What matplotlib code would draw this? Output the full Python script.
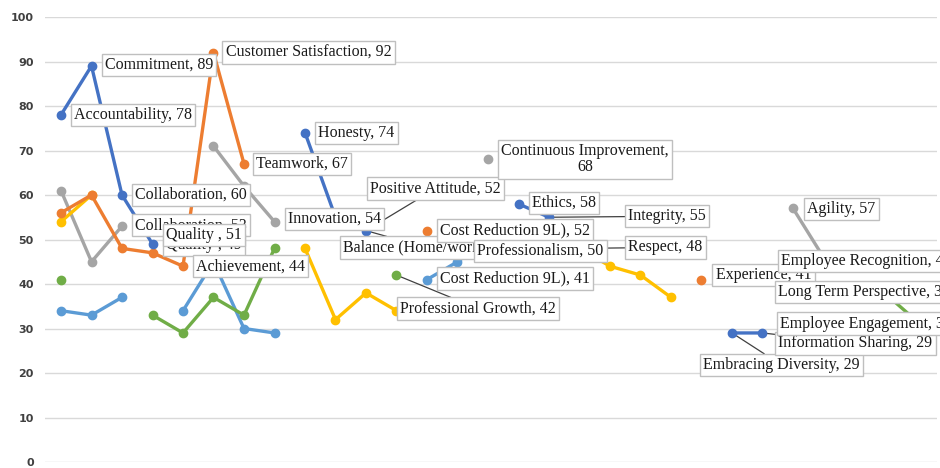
import numpy as np
import matplotlib
matplotlib.use("Agg")
import matplotlib.pyplot as plt

nan = np.nan

# ---------------- data ----------------
n_cats = 29
categories = list(range(n_cats))

blue = [78, 89, 60, 49, nan, nan, nan, nan, 74, 55, 52, nan, nan, nan, nan,
        58, 55, nan, nan, nan, nan, nan, 29, 29, nan, nan, nan, nan, nan]
orange = [56, 60, 48, 47, 44, 92, 67, nan, nan, nan, nan, nan, 52, nan, nan,
          nan, nan, nan, nan, nan, nan, 41, nan, nan, nan, nan, nan, nan, nan]
gray = [61, 45, 53, nan, nan, 71, 62, 54, nan, nan, nan, nan, nan, nan, 68,
        nan, nan, nan, nan, nan, nan, nan, nan, nan, 57, 46, nan, nan, nan]
yellow = [54, 60, nan, nan, nan, nan, nan, nan, 48, 32, 38, 34, nan, nan, nan,
          nan, nan, 48, 44, 42, 37, nan, nan, nan, nan, nan, nan, nan, nan]
lightblue = [34, 33, 37, nan, 34, 45, 30, 29, nan, nan, nan, nan, 41, 45, 50,
             nan, nan, nan, nan, nan, nan, nan, nan, nan, nan, nan, nan, nan, nan]
green = [41, nan, nan, 33, 29, 37, 33, 48, nan, nan, nan, 42, nan, nan, nan,
         nan, nan, nan, nan, nan, nan, nan, nan, nan, nan, nan, nan, 38, 32]

label_texts = [
    "Accountability, 78", "Commitment, 89", "Collaboration, 60",
    "Collaboration, 53", "Quality , 49", "Quality , 51",
    "Customer Satisfaction, 92", "Teamwork, 67", "Achievement, 44",
    "Innovation, 54", "Honesty, 74", "Positive Attitude, 52",
    "Balance (Home/work), 52", "Cost Reduction 9L), 52",
    "Cost Reduction 9L), 41", "Professional Growth, 42",
    "Professionalism, 50", "Continuous Improvement,\n68", "Ethics, 58",
    "Integrity, 55", "Respect, 48", "Experience, 41", "Agility, 57",
    "Employee Recognition, 46", "Long Term Perspective, 38",
    "Embracing Diversity, 29", "Information Sharing, 29",
    "Employee Engagement, 32",
]
label_cats = [0, 1, 2, 2, 3, 3, 5, 6, 4, 7, 8, 10, 10, 12, 12, 11, 14, 14,
              15, 16, 17, 21, 24, 25, 27, 22, 23, 28]
label_vals = [78, 89, 60, 53, 49, 51, 92, 67, 44, 54, 74, 52, 52, 52, 41, 42,
              50, 68, 58, 55, 48, 41, 57, 46, 38, 29, 29, 32]

# ---------------- style ----------------
# offsets (pixels) of box left edge / box vertical centre from the point
label_offsets = [
    (10, 0), (10, -1), (10, 0), (10, -1), (10, 1), (10, 0),
    (9, 0), (9, 0), (10, 0), (10, -3), (10, 0), (1, -42),
    (-26, 17), (10, 0), (10, -1), (0.5, 33.5), (-14, 11.5), (10, 0),
    (10, -1), (76, -1), (45.5, -1), (11, -4.5), (11, 0.5), (-45.5, 4),
    (-109.5, -1), (-32, 32), (12.5, 10.5), (-138, 4),
]
label_leader = [False] * len(label_texts)
for t in ("Positive Attitude, 52", "Balance (Home/work), 52",
          "Professional Growth, 42", "Integrity, 55", "Respect, 48",
          "Embracing Diversity, 29", "Information Sharing, 29"):
    label_leader[label_texts.index(t)] = True

series = [
    (gray, "#A5A5A5"),
    (yellow, "#FFC000"),
    (orange, "#ED7D31"),
    (lightblue, "#5B9BD5"),
    (blue, "#4472C4"),
    (green, "#70AD47"),
]

W, H, DPI = 940, 468, 100
fig = plt.figure(figsize=(W / DPI, H / DPI), dpi=DPI)
x0_px, x1_px, ytop_px, ybot_px = 45, 937, 17, 462
ax = fig.add_axes([x0_px / W, 1 - ybot_px / H, (x1_px - x0_px) / W,
                   (ybot_px - ytop_px) / H])

step = 30.5
first = 61
ax.set_xlim((x0_px - first) / step, (x1_px - first) / step)
ax.set_ylim(0, 100)

ax.set_yticks(np.arange(0, 101, 10))
ax.grid(axis="y", color="#D9D9D9", lw=1.0, zorder=0)
ax.set_axisbelow(True)
ax.set_xticks([])
for s in ax.spines.values():
    s.set_visible(False)
ax.tick_params(axis="y", length=0, pad=8, labelsize=8, labelcolor="#404040")
for lab in ax.get_yticklabels():
    lab.set_fontweight("bold")
    lab.set_family("DejaVu Sans")

xs = np.array(categories, dtype=float)
for vals, col in series:
    ax.plot(xs, np.array(vals, dtype=float), color=col, lw=2.4,
            marker="o", ms=6, mec=col, mfc=col, zorder=3,
            solid_capstyle="round", clip_on=False)

PX2PT = 72.0 / DPI
fs = 11.5
pad = 0.2
pad_px = pad * fs / PX2PT

for i, (txt, c, v) in enumerate(zip(label_texts, label_cats, label_vals)):
    dx, dy = label_offsets[i]
    off = ((dx + pad_px) * PX2PT, -dy * PX2PT)
    kw = dict(xy=(c, v), xycoords="data", xytext=off,
              textcoords="offset points", va="center", ha="left",
              fontsize=fs, family=["Liberation Serif", "DejaVu Serif"],
              annotation_clip=False, multialignment="center",
              linespacing=1.0)
    if label_leader[i]:
        ax.annotate(txt, color="none",
                    bbox=dict(boxstyle=f"square,pad={pad}", fc="none",
                              ec="none"),
                    arrowprops=dict(arrowstyle="-", color="#404040", lw=0.9,
                                    shrinkA=0, shrinkB=2),
                    zorder=2.5, **kw)
    ax.annotate(txt, color="#1a1a1a",
                bbox=dict(boxstyle=f"square,pad={pad}", fc="white",
                          ec="#BFBFBF", lw=1.0),
                zorder=10 + i, **kw)

fig.savefig("out.png", dpi=DPI, facecolor="white")
